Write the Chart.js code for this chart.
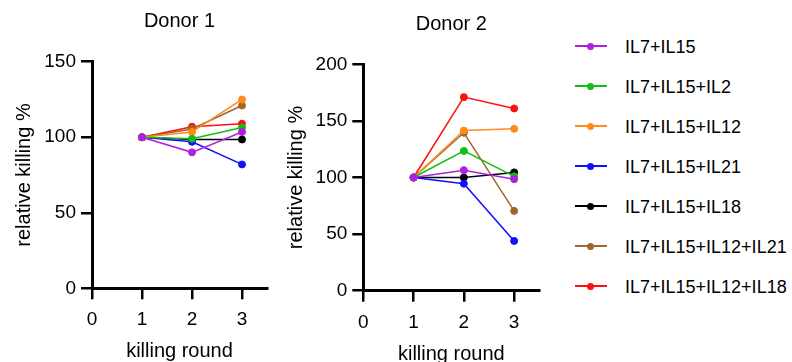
<!DOCTYPE html>
<html><head><meta charset="utf-8">
<script src="https://cdn.jsdelivr.net/npm/chart.js@4.4.0/dist/chart.umd.min.js"></script>
<style>
html,body{margin:0;padding:0;background:#fff;width:792px;height:362px;overflow:hidden;font-family:"Liberation Sans",Arial,sans-serif;}
#c1{position:absolute;left:0;top:0;}
#c2{position:absolute;left:280px;top:0;}
.lg{position:absolute;left:575px;width:220px;height:20px;}
.lg .ln{position:absolute;left:0;top:9px;width:32px;height:2px;}
.lg .dt{position:absolute;left:12px;top:6.5px;width:7px;height:7px;border-radius:50%;}
.lg .tx{position:absolute;left:50px;top:0;font-size:18px;line-height:22px;color:#000;white-space:nowrap;}
</style>
</head><body>
<canvas id="c1" width="280" height="362"></canvas>
<canvas id="c2" width="280" height="362"></canvas>
<div id="legend"></div>
<script>
// ---- data ----
const rounds = [1, 2, 3];
const xTicks = [0, 1, 2, 3];
const seriesNames = ['IL7+IL15', 'IL7+IL15+IL2', 'IL7+IL15+IL12', 'IL7+IL15+IL21', 'IL7+IL15+IL18', 'IL7+IL15+IL12+IL21', 'IL7+IL15+IL12+IL18'];
const seriesColors = ['#b21fe0', '#10c010', '#ff8c1a', '#1010ff', '#000000', '#a0662a', '#ff1010'];

// Donor 1
const d1_IL7_IL15 = [100, 90, 103.5];
const d1_IL2 = [100, 99, 106.5];
const d1_IL12 = [100, 103.5, 125];
const d1_IL21 = [100, 97, 82];
const d1_IL18 = [100, 98.5, 98.5];
const d1_IL12_IL21 = [100, 105.5, 121];
const d1_IL12_IL18 = [100, 107, 109];

// Donor 2
const d2_IL7_IL15 = [100, 106.5, 98.5];
const d2_IL2 = [100, 123.5, 101];
const d2_IL12 = [100, 141.5, 143];
const d2_IL21 = [100, 94.5, 44];
const d2_IL18 = [100, 100, 104.5];
const d2_IL12_IL21 = [100, 139.5, 70.5];
const d2_IL12_IL18 = [100, 171, 161];

const donor1Ticks = [0, 50, 100, 150];
const donor2Ticks = [0, 50, 100, 150, 200];

const donor1 = [d1_IL7_IL15, d1_IL2, d1_IL12, d1_IL21, d1_IL18, d1_IL12_IL21, d1_IL12_IL18];
const donor2 = [d2_IL7_IL15, d2_IL2, d2_IL12, d2_IL21, d2_IL18, d2_IL12_IL21, d2_IL12_IL18];

const FAM = '"Liberation Sans", Arial, sans-serif';

function makeDatasets(seriesList) {
  return seriesList.map((vals, i) => ({
    label: seriesNames[i],
    data: vals.map((v, k) => ({ x: rounds[k], y: v })),
    borderColor: seriesColors[i],
    backgroundColor: seriesColors[i],
    borderWidth: 1.5,
    pointRadius: 3.5,
    pointBorderWidth: 1,
    pointHoverRadius: 3.5,
    tension: 0
  }));
}

function makeChart(id, title, seriesList, yMax, yTicks, cfg) {
  return new Chart(document.getElementById(id), {
    type: 'line',
    data: { datasets: makeDatasets(seriesList) },
    options: {
      responsive: false,
      animation: false,
      events: [],
      layout: { padding: { left: 0, right: cfg.padRight, top: 0, bottom: 0 } },
      plugins: {
        legend: { display: false },
        tooltip: { enabled: false },
        title: {
          display: true, text: title, fullSize: false, color: '#000',
          font: { size: 20, weight: 'normal', family: FAM },
          padding: { top: cfg.titleTop, bottom: cfg.titleBottom }
        }
      },
      scales: {
        x: {
          type: 'linear', min: 0, max: 3.5,
          afterBuildTicks: s => { s.ticks = xTicks.map(v => ({ value: v })); },
          afterFit: s => { s.height = cfg.xHeight; },
          grid: { display: true, drawOnChartArea: false, drawTicks: true, tickLength: 11, color: '#000', lineWidth: 2.5 },
          border: { display: true, color: '#000', width: 3 },
          ticks: { color: '#000', font: { size: 19, family: FAM }, padding: cfg.xTickPad, maxRotation: 0, autoSkip: false },
          title: { display: true, text: 'killing round', color: '#000', font: { size: 20, family: FAM }, padding: { top: 0, bottom: cfg.xTitleBottom } }
        },
        y: {
          type: 'linear', min: 0, max: yMax,
          afterBuildTicks: s => { s.ticks = yTicks.map(v => ({ value: v })); },
          afterFit: s => { s.width = cfg.yWidth; },
          grid: { display: true, drawOnChartArea: false, drawTicks: true, tickLength: 11, color: '#000', lineWidth: 2.5 },
          border: { display: true, color: '#000', width: 3 },
          ticks: { color: '#000', font: { size: 19, family: FAM }, padding: 5 },
          title: { display: true, text: 'relative killing %', color: '#000', font: { size: 20, family: FAM }, padding: { top: cfg.yTitleTop, bottom: 0 } }
        }
      }
    }
  });
}

makeChart('c1', 'Donor 1', donor1, 150, donor1Ticks,
  { padRight: 13, titleTop: 9.5, titleBottom: 28.2, xHeight: 73.7, xTickPad: 9, xTitleBottom: -1.5, yWidth: 92, yTitleTop: 12 });
makeChart('c2', 'Donor 2', donor2, 200, donor2Ticks,
  { padRight: 20.7, titleTop: 12, titleBottom: 28.3, xHeight: 71.3, xTickPad: 10, xTitleBottom: -4.5, yWidth: 83.3, yTitleTop: 4 });

// legend
const lg = document.getElementById('legend');
seriesNames.forEach((name, i) => {
  const row = document.createElement('div');
  row.className = 'lg';
  row.style.top = (36 + i * 40) + 'px';
  row.innerHTML = '<div class="ln" style="background:' + seriesColors[i] + '"></div>' +
    '<div class="dt" style="background:' + seriesColors[i] + '"></div>' +
    '<div class="tx">' + name + '</div>';
  lg.appendChild(row);
});
</script>
</body></html>
